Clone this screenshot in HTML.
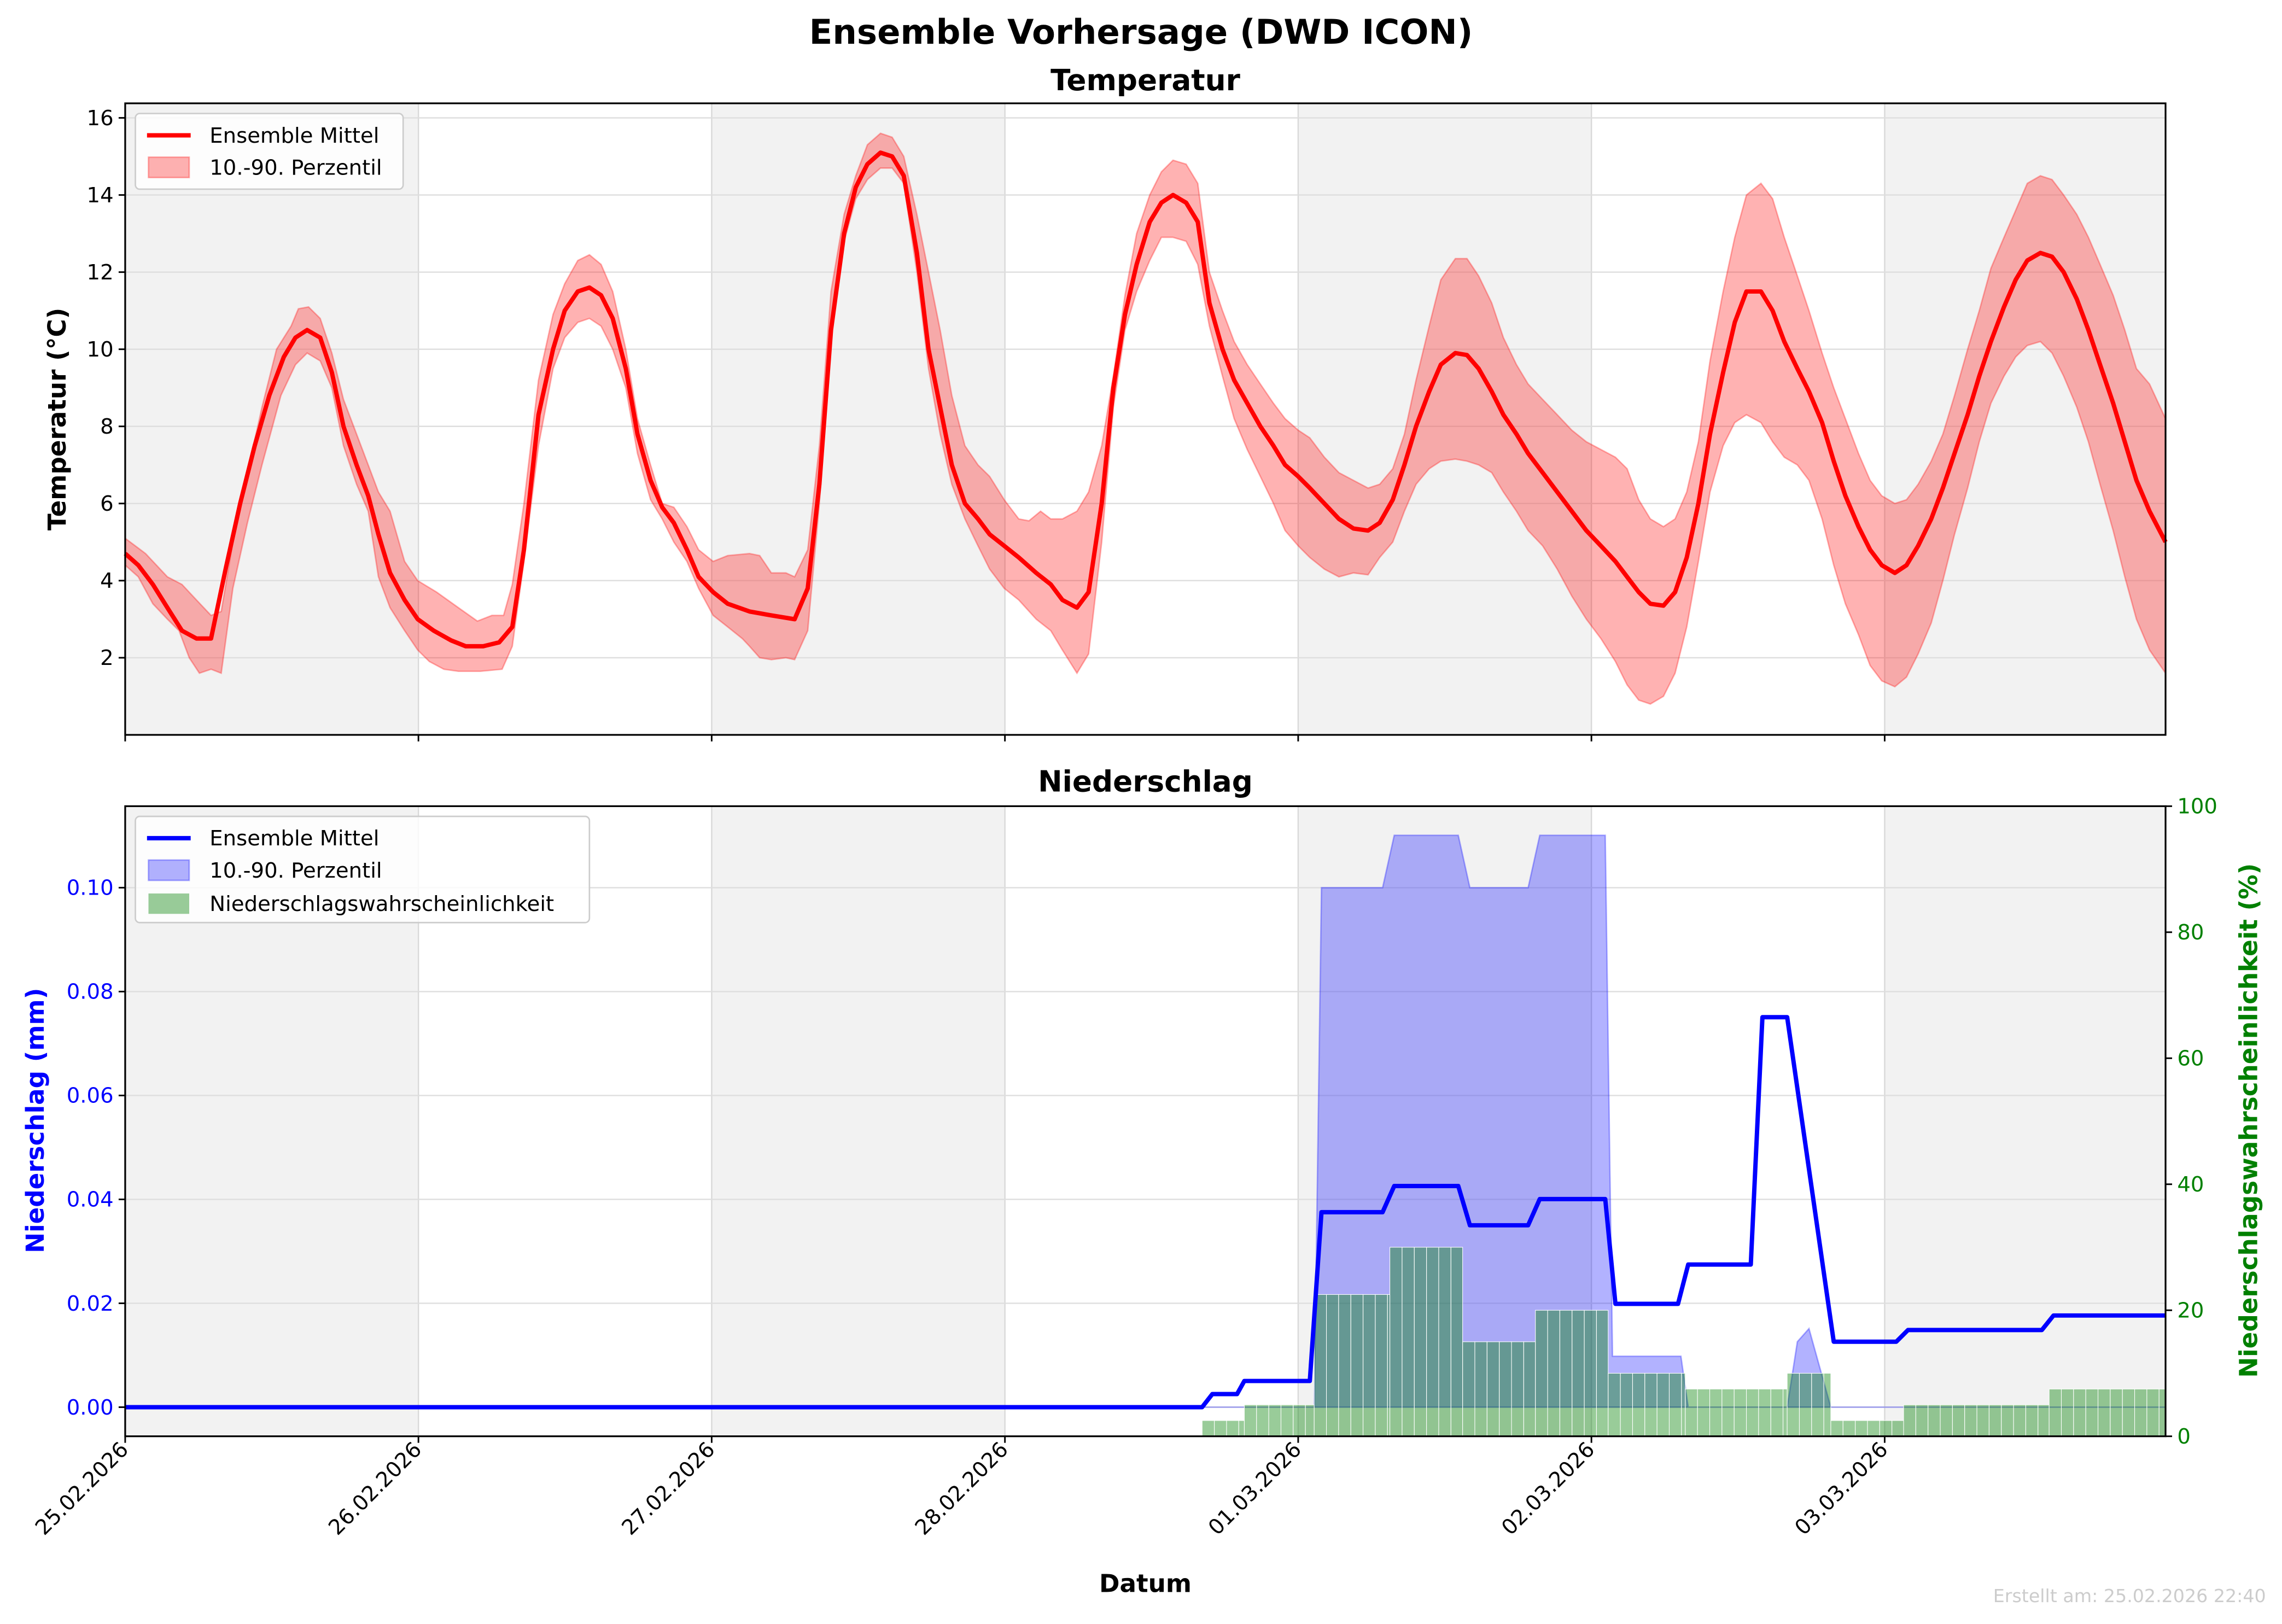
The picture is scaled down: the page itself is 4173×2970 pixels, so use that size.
<!DOCTYPE html>
<html><head><meta charset="utf-8"><style>
html,body{margin:0;padding:0;background:#fff;}
svg{display:block;font-family:"DejaVu Sans","Liberation Sans",sans-serif;}
</style></head><body>
<svg id="s" width="4173" height="2970" viewBox="0 0 1568 1116" xmlns="http://www.w3.org/2000/svg">
<rect width="1568" height="1116" fill="#fff"/>
<g id="bg"></g>
<g id="top"></g>
<g id="bot"></g>
<g id="axes"></g>
<text x="784" y="30" text-anchor="middle" font-size="23.5" font-weight="bold">Ensemble Vorhersage (DWD ICON)</text>
<text x="787" y="62" text-anchor="middle" font-size="20" font-weight="bold">Temperatur</text>
<text x="787" y="544" text-anchor="middle" font-size="20" font-weight="bold">Niederschlag</text>
<text transform="translate(45,288) rotate(-90)" text-anchor="middle" font-size="17" font-weight="bold">Temperatur (°C)</text>
<text transform="translate(30,770) rotate(-90)" text-anchor="middle" font-size="17" font-weight="bold" fill="#0000ff">Niederschlag (mm)</text>
<text transform="translate(1551,770) rotate(-90)" text-anchor="middle" font-size="17" font-weight="bold" fill="#008000">Niederschlagswahrscheinlichkeit (%)</text>
<text x="787" y="1094" text-anchor="middle" font-size="17" font-weight="bold">Datum</text>
<text x="1557" y="1101" text-anchor="end" font-size="12.5" fill="#cccccc">Erstellt am: 25.02.2026 22:40</text>
<g id="leg"></g>
</svg>
<script>
const NS="http://www.w3.org/2000/svg";
function el(p,t,a,txt){const e=document.createElementNS(NS,t);for(const k in a)e.setAttribute(k,a[k]);if(txt!==undefined)e.textContent=txt;document.getElementById(p).appendChild(e);return e;}
const L=86,R=1488,T1=71,B1=505,T2=554,B2=987,DAY=201.5,FS=14.5,LW=3;
[[T1,B1],[T2,B2]].forEach(([t,b])=>{
 for(let d=0;d<7;d+=2){const x0=L+d*DAY,x1=Math.min(R,x0+DAY);el('bg','rect',{x:x0,y:t,width:x1-x0,height:b-t,fill:'#f2f2f2'});}
 for(let d=1;d<7;d++){const x=L+d*DAY;el('bg','line',{x1:x,x2:x,y1:t,y2:b,stroke:'#d9d9d9','stroke-width':0.9});}
});
const yT=v=>505-26.5*v;
for(let v=2;v<=16;v+=2){el('bg','line',{x1:L,x2:R,y1:yT(v),y2:yT(v),stroke:'#dedede','stroke-width':0.9});}
const yP=v=>967-3570*v;
for(let i=0;i<=5;i++){const v=i*0.02;el('bg','line',{x1:L,x2:R,y1:yP(v),y2:yP(v),stroke:'#dedede','stroke-width':0.9});}
function parse(s){return s.trim().split(/;\s*/).map(p=>p.trim().split(/\s+/).map(Number));}
const mean=parse("86 4.7; 95 4.4; 105 3.9; 115 3.3; 125 2.7; 135 2.5; 145 2.5; 155 4.3; 165 6.0; 175 7.5; 185 8.8; 195 9.8; 203 10.3; 211 10.5; 220 10.3; 228 9.4; 236 8.0; 245 7.0; 253 6.2; 260 5.2; 268 4.2; 278 3.5; 287 3.0; 298 2.7; 310 2.45; 320 2.3; 332 2.3; 343 2.4; 352 2.8; 360 4.8; 370 8.3; 380 10.0; 388 11.0; 397 11.5; 405 11.6; 413 11.4; 421 10.8; 430 9.5; 438 7.8; 447 6.6; 455 5.9; 463 5.5; 472 4.8; 480 4.1; 490 3.7; 500 3.4; 515 3.2; 530 3.1; 546 3.0; 555 3.8; 563 6.5; 571 10.5; 580 13.0; 588 14.2; 596 14.8; 605 15.1; 613 15.0; 621 14.5; 630 12.5; 638 10.0; 646 8.5; 654 7.0; 663 6.0; 672 5.6; 680 5.2; 690 4.9; 700 4.6; 712 4.2; 722 3.9; 730 3.5; 740 3.3; 748 3.7; 757 6.0; 765 9.0; 773 10.9; 781 12.2; 790 13.3; 798 13.8; 806 14.0; 815 13.8; 823 13.3; 831 11.2; 840 10.0; 848 9.2; 857 8.6; 866 8.0; 875 7.5; 883 7.0; 892 6.7; 900 6.4; 910 6.0; 920 5.6; 930 5.35; 940 5.3; 948 5.5; 957 6.1; 965 7.0; 973 8.0; 982 8.9; 990 9.6; 1000 9.9; 1008 9.85; 1016 9.5; 1025 8.9; 1033 8.3; 1042 7.8; 1050 7.3; 1060 6.8; 1070 6.3; 1080 5.8; 1090 5.3; 1100 4.9; 1110 4.5; 1118 4.1; 1126 3.7; 1134 3.4; 1143 3.35; 1151 3.7; 1159 4.6; 1167 6.0; 1175 7.8; 1184 9.4; 1192 10.7; 1200 11.5; 1210 11.5; 1218 11.0; 1226 10.2; 1235 9.5; 1243 8.9; 1252 8.1; 1260 7.1; 1268 6.2; 1277 5.4; 1285 4.8; 1293 4.4; 1302 4.2; 1310 4.4; 1318 4.9; 1327 5.6; 1335 6.4; 1343 7.3; 1352 8.3; 1360 9.3; 1368 10.2; 1377 11.1; 1385 11.8; 1393 12.3; 1402 12.5; 1410 12.4; 1418 12.0; 1427 11.3; 1435 10.5; 1443 9.6; 1452 8.6; 1460 7.6; 1468 6.6; 1477 5.8; 1488 5.0");
const up=parse("86 5.1; 100 4.7; 115 4.1; 125 3.9; 135 3.5; 145 3.1; 152 3.2; 160 5.0; 170 6.8; 180 8.5; 190 10.0; 200 10.6; 205 11.05; 212 11.1; 220 10.8; 228 9.9; 236 8.7; 245 7.8; 253 7.0; 260 6.3; 268 5.8; 278 4.5; 287 4.0; 300 3.7; 315 3.3; 328 2.95; 338 3.1; 346 3.1; 352 3.9; 360 6.0; 370 9.2; 380 10.9; 388 11.7; 397 12.3; 405 12.45; 413 12.2; 421 11.5; 430 10.0; 438 8.2; 447 7.0; 455 6.0; 463 5.9; 472 5.4; 480 4.8; 490 4.5; 500 4.65; 515 4.7; 522 4.65; 530 4.2; 540 4.2; 546 4.1; 555 4.8; 563 7.5; 571 11.5; 580 13.5; 588 14.5; 596 15.3; 605 15.6; 613 15.5; 621 15.0; 630 13.5; 638 12.0; 646 10.5; 654 8.8; 663 7.5; 672 7.0; 680 6.7; 690 6.1; 700 5.6; 707 5.55; 715 5.8; 722 5.6; 730 5.6; 740 5.8; 748 6.3; 757 7.5; 765 9.3; 773 11.4; 781 13.0; 790 14.0; 798 14.6; 806 14.9; 815 14.8; 823 14.3; 831 12.0; 840 11.0; 848 10.2; 857 9.6; 866 9.1; 875 8.6; 883 8.2; 892 7.9; 900 7.7; 910 7.2; 920 6.8; 930 6.6; 940 6.4; 948 6.5; 957 6.9; 965 7.8; 973 9.2; 982 10.6; 990 11.8; 1000 12.35; 1008 12.35; 1016 11.9; 1025 11.2; 1033 10.3; 1042 9.6; 1050 9.1; 1060 8.7; 1070 8.3; 1080 7.9; 1090 7.6; 1100 7.4; 1110 7.2; 1118 6.9; 1126 6.1; 1134 5.6; 1143 5.4; 1151 5.6; 1159 6.3; 1167 7.6; 1175 9.7; 1184 11.5; 1192 12.9; 1200 14.0; 1210 14.3; 1218 13.9; 1226 12.9; 1235 11.9; 1243 11.0; 1252 9.9; 1260 9.0; 1268 8.2; 1277 7.3; 1285 6.6; 1293 6.2; 1302 6.0; 1310 6.1; 1318 6.5; 1327 7.1; 1335 7.8; 1343 8.8; 1352 10.0; 1360 11.0; 1368 12.1; 1377 12.9; 1385 13.6; 1393 14.3; 1402 14.5; 1410 14.4; 1418 14.0; 1427 13.5; 1435 12.9; 1443 12.2; 1452 11.4; 1460 10.5; 1468 9.5; 1477 9.1; 1488 8.2");
const lo=parse("86 4.4; 95 4.1; 105 3.4; 115 3.0; 123 2.7; 130 2.0; 137 1.6; 145 1.7; 152 1.6; 160 3.8; 170 5.5; 180 7.0; 193 8.8; 203 9.6; 211 9.9; 220 9.7; 228 9.0; 236 7.5; 245 6.5; 253 5.8; 260 4.1; 268 3.3; 278 2.7; 287 2.2; 295 1.9; 305 1.7; 315 1.65; 330 1.65; 345 1.7; 352 2.3; 360 4.5; 370 7.5; 380 9.5; 388 10.3; 397 10.7; 405 10.8; 413 10.6; 421 10.0; 430 9.0; 438 7.3; 447 6.1; 455 5.6; 463 5.0; 472 4.5; 480 3.8; 490 3.1; 500 2.8; 510 2.5; 515 2.3; 522 2.0; 530 1.95; 540 2.0; 546 1.95; 555 2.7; 563 6.0; 571 10.3; 580 12.8; 588 13.9; 596 14.4; 605 14.7; 613 14.7; 621 14.3; 630 12.0; 638 9.5; 646 7.8; 654 6.5; 663 5.6; 672 4.9; 680 4.3; 690 3.8; 700 3.5; 712 3.0; 722 2.7; 730 2.2; 740 1.6; 748 2.1; 757 5.0; 765 8.5; 773 10.5; 781 11.5; 790 12.3; 798 12.9; 806 12.9; 815 12.8; 823 12.2; 831 10.6; 840 9.3; 848 8.2; 857 7.4; 866 6.7; 875 6.0; 883 5.3; 892 4.9; 900 4.6; 910 4.3; 920 4.1; 930 4.2; 940 4.15; 948 4.6; 957 5.0; 965 5.8; 973 6.5; 982 6.9; 990 7.1; 1000 7.15; 1008 7.1; 1016 7.0; 1025 6.8; 1033 6.3; 1042 5.8; 1050 5.3; 1060 4.9; 1070 4.3; 1080 3.6; 1090 3.0; 1100 2.5; 1110 1.9; 1118 1.3; 1126 0.9; 1134 0.8; 1143 1.0; 1151 1.6; 1159 2.8; 1167 4.5; 1175 6.3; 1184 7.5; 1192 8.1; 1200 8.3; 1210 8.1; 1218 7.6; 1226 7.2; 1235 7.0; 1243 6.6; 1252 5.6; 1260 4.4; 1268 3.4; 1277 2.6; 1285 1.8; 1293 1.4; 1302 1.25; 1310 1.5; 1318 2.1; 1327 2.9; 1335 4.0; 1343 5.2; 1352 6.4; 1360 7.6; 1368 8.6; 1377 9.3; 1385 9.8; 1393 10.1; 1402 10.2; 1410 9.9; 1418 9.3; 1427 8.5; 1435 7.6; 1443 6.5; 1452 5.3; 1460 4.1; 1468 3.0; 1477 2.2; 1488 1.6");
const pts=(a)=>a.map(p=>p[0]+','+yT(p[1]).toFixed(1)).join(' ');
el('top','polygon',{points:pts(up)+' '+pts(lo.slice().reverse()),fill:'#ff0000','fill-opacity':0.3,stroke:'#ff0000','stroke-opacity':0.3,'stroke-width':1});
el('top','polyline',{points:pts(mean),fill:'none',stroke:'#ff0000','stroke-width':LW,'stroke-linejoin':'round'});
const band="86,967 903,967 908,610 950,610 958,574 1002,574 1010,610 1050,610 1058,574 1103,574 1108,932 1155,932 1160,967 1228,967 1235,922 1243,913 1258,967 1488,967";
el('bot','polygon',{points:band,fill:'#0000ff','fill-opacity':0.3,stroke:'#0000ff','stroke-opacity':0.3,'stroke-width':1});
const segs=[[826,855,2.5],[855,903,5],[903,955,22.5],[955,1005,30],[1005,1055,15],[1055,1105,20],[1105,1158,10],[1158,1228,7.5],[1228,1258,10],[1258,1308,2.5],[1308,1408,5],[1408,1488,7.5]];
const hw=DAY/24;
segs.forEach(([a,b,p])=>{for(let x=a;x<b-1;x+=hw){const w=Math.min(hw,b-x);const y=987-p*4.33;el('bot','rect',{x:x,y:y,width:w,height:987-y,fill:'#008000','fill-opacity':0.4,stroke:'#ffffff','stroke-width':0.4});}});
el('bot','polyline',{points:"86,967 826,967 833,958 850,958 855,949 900,949 908,833 950,833 958,815 1002,815 1010,842 1050,842 1058,824 1103,824 1110,896 1153,896 1160,869 1203,869 1211,699 1228,699 1260,922 1303,922 1311,914 1403,914 1411,904 1488,904",fill:'none',stroke:'#0000ff','stroke-width':LW,'stroke-linejoin':'round'});
[[T1,B1],[T2,B2]].forEach(([t,b])=>{el('axes','rect',{x:L,y:t,width:R-L,height:b-t,fill:'none',stroke:'#000','stroke-width':1.2});
 for(let d=0;d<7;d++){const x=L+d*DAY;el('axes','line',{x1:x,x2:x,y1:b,y2:b+4.5,stroke:'#000','stroke-width':1.1});}});
for(let v=2;v<=16;v+=2){const y=yT(v);el('axes','line',{x1:L-4.5,x2:L,y1:y,y2:y,stroke:'#000','stroke-width':1.1});el('axes','text',{x:L-8,y:y+5,'text-anchor':'end','font-size':FS},String(v));}
for(let i=0;i<=5;i++){const v=i*0.02,y=yP(v);el('axes','line',{x1:L-4.5,x2:L,y1:y,y2:y,stroke:'#000','stroke-width':1.1});el('axes','text',{x:L-8,y:y+5,'text-anchor':'end','font-size':FS,fill:'#0000ff'},v.toFixed(2));}
for(let p=0;p<=100;p+=20){const y=987-p*4.33;el('axes','line',{x1:R,x2:R+4.5,y1:y,y2:y,stroke:'#000','stroke-width':1.1});el('axes','text',{x:R+8,y:y+5,'font-size':FS,fill:'#008000'},String(p));}
const dates=["25.02.2026","26.02.2026","27.02.2026","28.02.2026","01.03.2026","02.03.2026","03.03.2026"];
dates.forEach((d,i)=>{const x=L+i*DAY;el('axes','text',{transform:`translate(${x+3},${B2+10}) rotate(-45)`,'text-anchor':'end','font-size':FS},d);});
el('leg','rect',{x:93,y:78,width:184,height:52,rx:3,fill:'#fff','fill-opacity':0.8,stroke:'#cccccc','stroke-width':1});
el('leg','line',{x1:101,x2:131,y1:93,y2:93,stroke:'#ff0000','stroke-width':LW});
el('leg','text',{x:144,y:98,'font-size':FS},'Ensemble Mittel');
el('leg','rect',{x:102,y:108,width:28,height:14,fill:'#ff0000','fill-opacity':0.3,stroke:'#ff0000','stroke-opacity':0.3});
el('leg','text',{x:144,y:120,'font-size':FS},'10.-90. Perzentil');
el('leg','rect',{x:93,y:561,width:312,height:73,rx:3,fill:'#fff','fill-opacity':0.8,stroke:'#cccccc','stroke-width':1});
el('leg','line',{x1:101,x2:131,y1:576,y2:576,stroke:'#0000ff','stroke-width':LW});
el('leg','text',{x:144,y:581,'font-size':FS},'Ensemble Mittel');
el('leg','rect',{x:102,y:591,width:28,height:14,fill:'#0000ff','fill-opacity':0.3,stroke:'#0000ff','stroke-opacity':0.3});
el('leg','text',{x:144,y:603,'font-size':FS},'10.-90. Perzentil');
el('leg','rect',{x:102,y:614,width:28,height:14,fill:'#008000','fill-opacity':0.4});
el('leg','text',{x:144,y:626,'font-size':FS},'Niederschlagswahrscheinlichkeit');
</script>
</body></html>
